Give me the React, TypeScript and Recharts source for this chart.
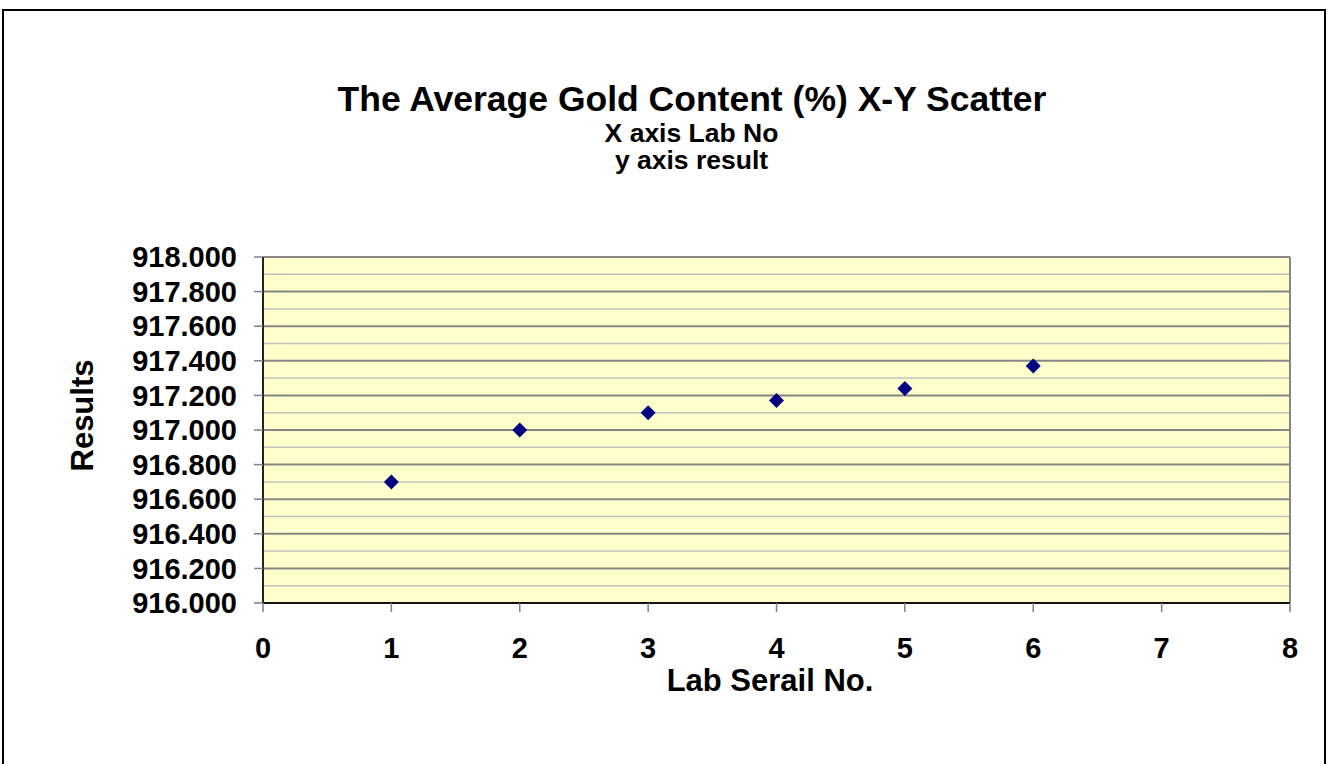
import { ScatterChart, Scatter, XAxis, YAxis, CartesianGrid, ReferenceLine } from "recharts";

// lab serial numbers and their average gold result
const labNo = [1, 2, 3, 4, 5, 6];
const results = [916.7, 917.0, 917.1, 917.17, 917.24, 917.37];

const xTicks = [0, 1, 2, 3, 4, 5, 6, 7, 8];
const yTicks = [916, 916.2, 916.4, 916.6, 916.8, 917, 917.2, 917.4, 917.6, 917.8, 918];
const yMinorTicks = [916.1, 916.3, 916.5, 916.7, 916.9, 917.1, 917.3, 917.5, 917.7, 917.9];

const FONT = '"Liberation Sans", Arial, sans-serif';

const Diamond = (props: any) => {
  const { cx, cy } = props;
  const r = 7.5;
  return (
    <polygon
      points={`${cx},${cy - r} ${cx + r},${cy} ${cx},${cy + r} ${cx - r},${cy}`}
      fill="#000080"
    />
  );
};

// centred line of text, placed by its baseline
const textBox = (baseline: number, size: number, lh: number, centerX: number): React.CSSProperties => ({
  position: "absolute",
  left: centerX - 600,
  width: 1200,
  top: baseline - (lh / 2 + 0.3465 * size),
  fontSize: size,
  lineHeight: `${lh}px`,
  textAlign: "center",
  whiteSpace: "nowrap",
});

export default function App() {
  const data = labNo.map((x, i) => ({ x, y: results[i] }));

  return (
    <div
      style={{
        position: "absolute",
        left: 0,
        top: 0,
        width: 1328,
        height: 764,
        overflow: "hidden",
        background: "#fff",
        fontFamily: FONT,
        fontWeight: "bold",
        color: "#000",
      }}
    >
      <div style={textBox(111.5, 35.5, 30, 692)}>The Average Gold Content (%) X-Y Scatter</div>
      <div style={textBox(142.5, 26.5, 20, 691.5)}>X axis Lab No</div>
      <div style={textBox(169.5, 26.5, 20, 691.5)}>y axis result</div>
      <div style={textBox(691, 31, 31, 770)}>Lab Serail No.</div>
      <div
        style={{
          position: "absolute",
          left: 82 - 100,
          top: 416 - 16,
          width: 200,
          fontSize: 31,
          lineHeight: "31px",
          textAlign: "center",
          transform: "rotate(-90deg)",
        }}
      >
        Results
      </div>

      <div style={{ position: "absolute", left: 0, top: 0 }}>
        <ScatterChart
          width={1328}
          height={764}
          margin={{ top: 257, right: 38, bottom: 0, left: 0 }}
        >
          <CartesianGrid
            vertical={false}
            horizontalValues={yMinorTicks}
            stroke="#c0c0c0"
            strokeWidth={1.5}
            fill="#FFFFCC"
            fillOpacity={1}
          />
          <CartesianGrid vertical={false} stroke="#868686" strokeWidth={2} />
          <ReferenceLine x={8} stroke="#868686" strokeWidth={2} />
          <XAxis
            type="number"
            dataKey="x"
            domain={[0, 8]}
            ticks={xTicks}
            interval={0}
            height={161}
            tickSize={9}
            tickMargin={25}
            axisLine={{ stroke: "#111", strokeWidth: 2 }}
            tickLine={{ stroke: "#808080", strokeWidth: 1.5 }}
            tick={{ fontSize: 29, fontWeight: "bold", fill: "#000", fontFamily: FONT }}
          />
          <YAxis
            type="number"
            dataKey="y"
            domain={[916, 918]}
            ticks={yTicks}
            interval={0}
            width={263}
            tickSize={9}
            tickMargin={17}
            tickFormatter={(v: number) => v.toFixed(3)}
            axisLine={{ stroke: "#222", strokeWidth: 2 }}
            tickLine={{ stroke: "#808080", strokeWidth: 1.5 }}
            tick={{ fontSize: 29, fontWeight: "bold", fill: "#000", fontFamily: FONT }}
          />
          <Scatter data={data} shape={<Diamond />} isAnimationActive={false} />
        </ScatterChart>
      </div>

      {/* outer chart frame, its bottom edge runs past the picture */}
      <div
        style={{
          position: "absolute",
          left: 2,
          top: 9,
          width: 1324,
          height: 800,
          borderTop: "2px solid #000",
          borderLeft: "2px solid #000",
          borderRight: "2px solid #000",
          boxSizing: "border-box",
          pointerEvents: "none",
        }}
      />
    </div>
  );
}
